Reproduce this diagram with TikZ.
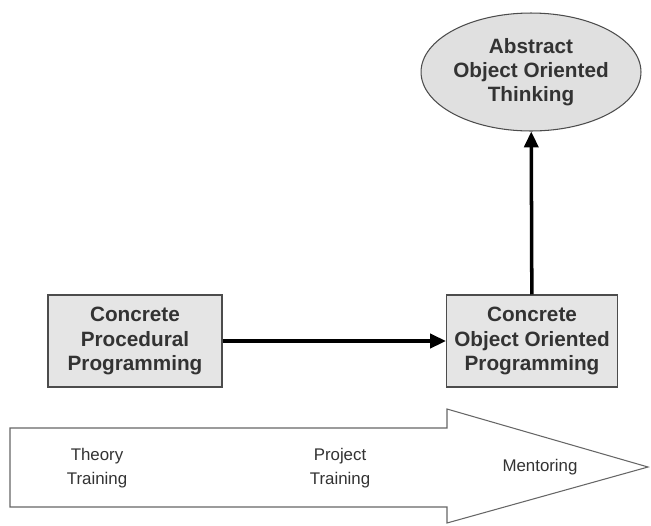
\documentclass[tikz,border=0pt]{standalone}
\usepackage{fontspec}
\setmainfont{Liberation Sans}
\usetikzlibrary{shapes.geometric,arrows.meta}
\begin{document}
\begin{tikzpicture}[x=0.02cm,y=-0.02cm,semithick]
\tikzset{every node/.style={align=center, font=\bfseries\fontsize{11.8}{13.8}\selectfont, text=black!80}}
\tikzstyle{stage}=[draw=black!70, fill=black!10, minimum width=3.48cm, minimum height=1.84cm, inner sep=1pt]
\tikzstyle{goal}=[ellipse, draw=black!70, fill=black!12, minimum width=3.36cm, minimum height=2.36cm, inner sep=0pt]
\tikzstyle{phase}=[font=\fontsize{9.6}{13.6}\selectfont, text=black!80]
\tikzstyle{link}=[draw=black, line width=2pt, -{Triangle[length=9pt,width=8pt]}]
\useasboundingbox (0,0) rectangle (651,525);
% timeline arrow
\draw[draw=black!60, fill=white] (10,428) -- (447,428) -- (447,409) -- (648,467)
  -- (447,523) -- (447,507) -- (10,507) -- cycle;
\node[phase] (theory) at (97,468) {Theory\\Training};
\node[phase] (project) at (340,468) {Project\\Training};
\node[phase] (mentor) at (540,467) {Mentoring};
% stages
\node[stage, minimum width=3.48cm] (proc) at (135,341) {Concrete\\Procedural\\Programming};
\node[stage, minimum width=3.42cm] (oop) at (532,341) {Concrete\\Object Oriented\\Programming};
\node[goal] (abst) at (531,72) {Abstract\\Object Oriented\\Thinking};
\draw[link] (proc) -- (oop);
\draw[link] (oop) -- (abst);
\end{tikzpicture}
\end{document}
